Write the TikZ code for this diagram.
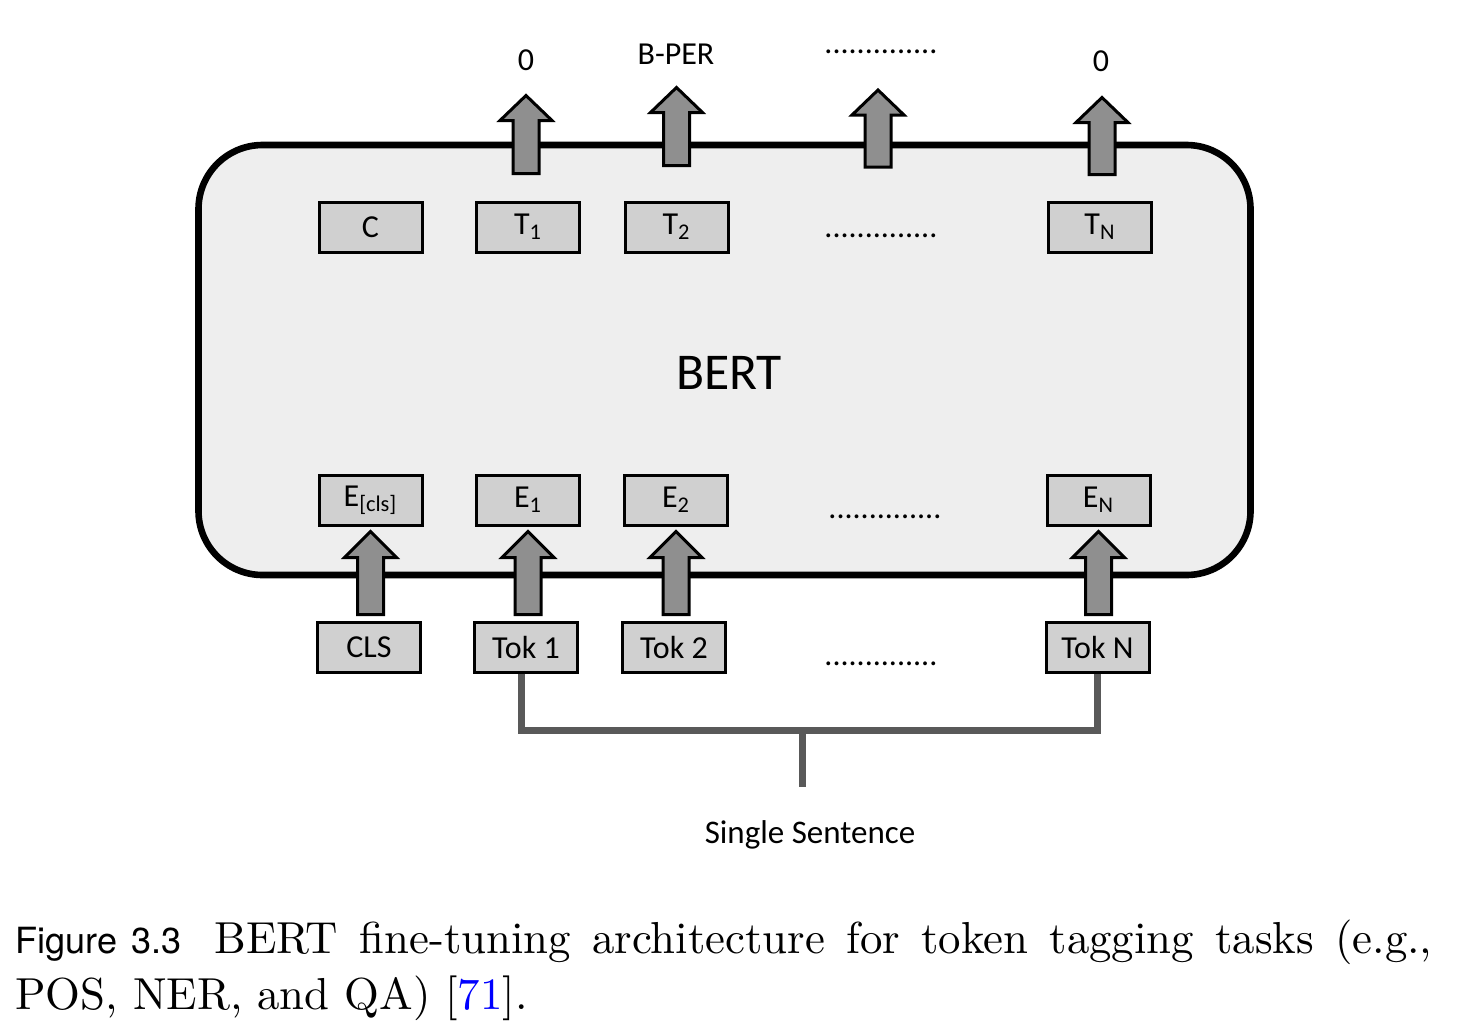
\documentclass[tikz,border=0pt]{standalone}
\usepackage{fontspec}
\usepackage{graphicx}
\usetikzlibrary{calc}
\newfontfamily\calfont{Carlito}
\newfontfamily\figfont{TeX Gyre Heros}
\definecolor{bertfill}{RGB}{238,238,238}
\definecolor{boxfill}{RGB}{208,208,208}
\definecolor{arrowfill}{RGB}{143,143,143}
\definecolor{connline}{RGB}{89,89,89}
\newcommand{\outarrow}[4]{%
  \draw[blockarrow, shift={(#1)}] (#2-13,#3) -- (#2-13,#4+25) -- (#2-26,#4+25) -- (#2,#4) -- (#2+26,#4+25) -- (#2+13,#4+25) -- (#2+13,#3) -- cycle;}
\newcommand{\inarrow}[2]{%
  \draw[blockarrow] let \p1=(#1.north), \p2=(#2.south) in
    (\x2-6.5pt,\y1+3pt) -- (\x2-6.5pt,\y2-15.5pt) -- (\x2-13pt,\y2-15.5pt) -- (\x2,\y2-2.5pt)
    -- (\x2+13pt,\y2-15.5pt) -- (\x2+6.5pt,\y2-15.5pt) -- (\x2+6.5pt,\y1+3pt) -- cycle;}
\begin{document}
\begin{tikzpicture}[x=0.5pt,y=-0.5pt,
  bertbox/.style={draw=black, line width=3.3pt, fill=bertfill, rounded corners=32pt,
    minimum width=526pt, minimum height=215pt, inner sep=0},
  tokbox/.style={draw=black, line width=1.5pt, fill=boxfill, minimum width=51.5pt,
    minimum height=25pt, inner sep=0, font=\calfont\fontsize{16}{19}\selectfont},
  lbl/.style={font=\calfont\fontsize{16}{19}\selectfont, inner sep=0},
  dotlbl/.style={font=\calfont\fontsize{16}{19}\selectfont, inner sep=0, anchor=base},
  blockarrow/.style={draw=black, line width=1.5pt, fill=arrowfill, line join=miter},
  conn/.style={draw=connline, line width=3.5pt}
]
\useasboundingbox (0,0) rectangle (1468,1034);
\fill[white] (0,0) rectangle (1468,1034);

% BERT container
\node[bertbox] (bert) at (724.5,360) {};
\node[font=\calfont\fontsize{25.8}{30}\selectfont, inner sep=0] (bertlbl) at (729,373) {BERT};

% top row
\node[tokbox] (C)  at (370.5,227) {C};
\node[tokbox] (T1) at (528,227) {T\textsubscript{1}};
\node[tokbox] (T2) at (676.5,227) {T\textsubscript{2}};
\node[dotlbl] (dotsT) at (881,237) {..............};
\node[tokbox] (TN) at (1100,227) {T\textsubscript{N}};

% embedding row
\node[tokbox] (Ecls) at (370.5,500) {E\textsubscript{[cls]}};
\node[tokbox] (E1) at (528,500) {E\textsubscript{1}};
\node[tokbox] (E2) at (676,500) {E\textsubscript{2}};
\node[dotlbl] (dotsE) at (885,518) {..............};
\node[tokbox] (EN) at (1098.5,500) {E\textsubscript{N}};

% token row
\node[tokbox] (CLS)  at (369,647) {CLS};
\node[tokbox] (Tok1) at (526,647) {Tok 1};
\node[tokbox] (Tok2) at (674,647) {Tok 2};
\node[dotlbl] (dotsTok) at (881,665) {..............};
\node[tokbox] (TokN) at (1097.5,647) {Tok N};

% output labels
\node[lbl] (o1) at (526,60) {0};
\node[lbl] (bper) at (676,54) {B-PER};
\node[dotlbl] (dotsTop) at (881,53) {..............};
\node[lbl] (o2) at (1101,61) {0};

% output arrows
\outarrow{T1.north}{-2}{-27}{-105}
\outarrow{T2.north}{0}{-35}{-113}
\outarrow{dotsT.base}{-3}{-70}{-147}
\outarrow{TN.north}{2}{-26}{-103}

% input arrows
\inarrow{CLS}{Ecls}
\inarrow{Tok1}{E1}
\inarrow{Tok2}{E2}
\inarrow{TokN}{EN}

% sentence connector
\coordinate (join) at (802,730);
\coordinate (stemend) at (802,787);
\draw[conn] ([xshift=-2.5pt]Tok1.south) |- (join) -| (TokN.south);
\draw[conn] (join) -- (stemend);
\node[font=\calfont\fontsize{16.5}{19}\selectfont, inner sep=0] (sent) at (810,835) {Single Sentence};

% caption
\node[anchor=north west, inner sep=0] (caption) at (15,919) {\scalebox{2.24}{\parbox[t]{316.3pt}{\fontsize{10}{12.72}\selectfont
{\figfont\fontsize{8.05}{10}\selectfont Figure 3.3}\hspace{7.3pt}BERT fine-tuning architecture for token tagging tasks (e.g.,\linebreak
POS, NER, and QA) [\textcolor{blue}{71}].}}};
\end{tikzpicture}
\end{document}
